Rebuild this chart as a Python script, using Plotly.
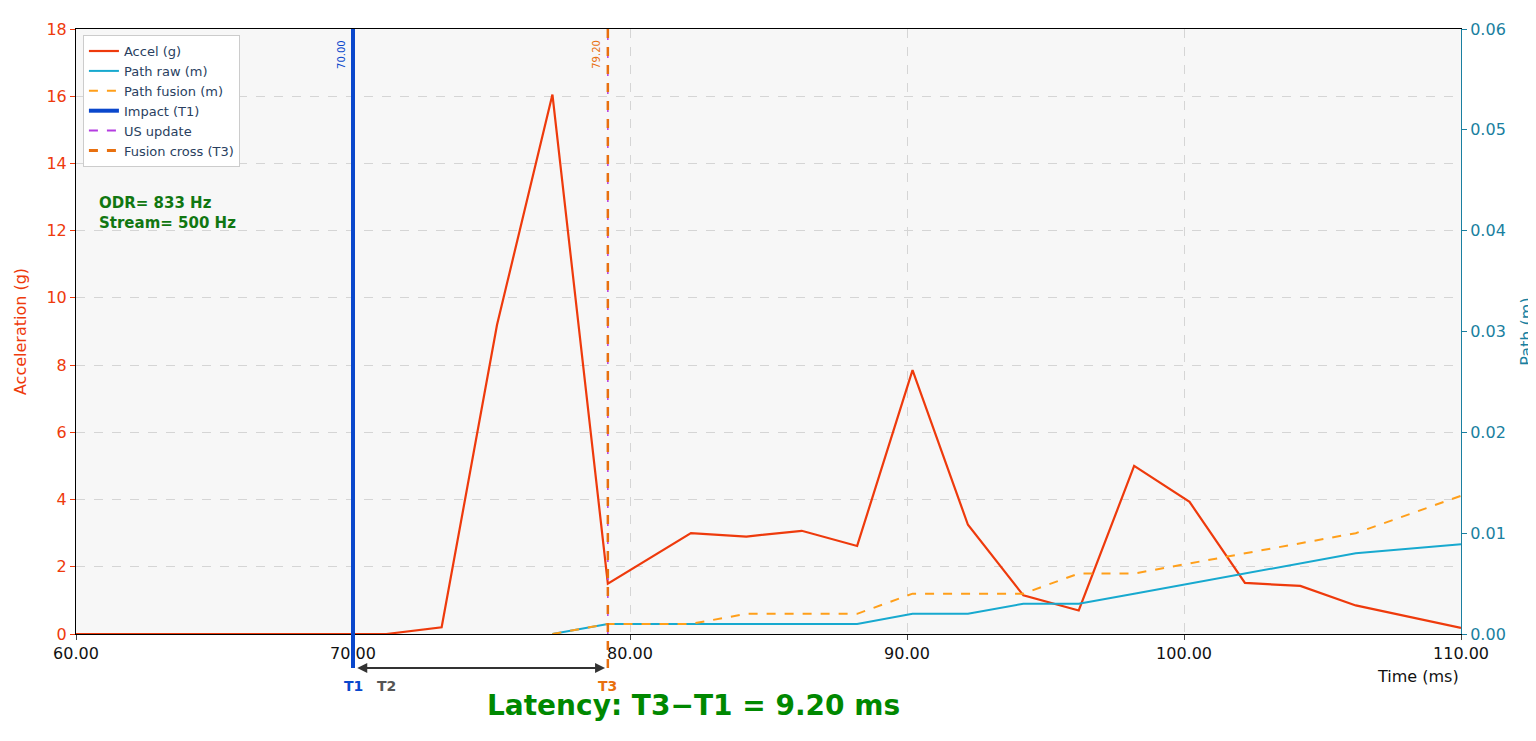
import plotly.graph_objects as go

acc_t = [60, 70, 71.2, 73.2, 75.2, 77.2, 79.2, 82.2, 84.2, 86.2, 88.2, 90.2, 92.2, 94.2, 96.2, 98.2, 100.2, 102.2, 104.2, 106.2, 110]
acc_g = [0, 0, 0, 0.2, 9.2, 16.05, 1.5, 3.0, 2.9, 3.07, 2.62, 7.85, 3.25, 1.15, 0.7, 5.0, 3.93, 1.52, 1.43, 0.85, 0.18]
path_t = [77.2, 79.2, 82.2, 84.2, 86.2, 88.2, 90.2, 92.2, 94.2, 96.2, 98.2, 100.2, 102.2, 104.2, 106.2, 110]
path_raw = [0, 0.001, 0.001, 0.001, 0.001, 0.001, 0.002, 0.002, 0.003, 0.003, 0.004, 0.005, 0.006, 0.007, 0.008, 0.0089]
path_fus = [0, 0.001, 0.001, 0.002, 0.002, 0.002, 0.004, 0.004, 0.004, 0.006, 0.006, 0.007, 0.008, 0.009, 0.010, 0.0137]
T1, T2, T3 = 70.0, 71.2, 79.2
xticks = [60, 70, 80, 90, 100, 110]

fig = go.Figure()
fig.add_trace(go.Scatter(x=acc_t, y=acc_g, name="Accel (g)", mode="lines", line=dict(color="#ee3a0c", width=2.2)))
fig.add_trace(go.Scatter(x=path_t, y=path_raw, name="Path raw (m)", mode="lines", line=dict(color="#17a9cf", width=2), yaxis="y2"))
fig.add_trace(go.Scatter(x=path_t, y=path_fus, name="Path fusion (m)", mode="lines", line=dict(color="#ff9f1a", width=2, dash="dash"), yaxis="y2"))
fig.add_trace(go.Scatter(x=[None], y=[None], name="Impact (T1)", mode="lines", line=dict(color="#0a47cc", width=4)))
fig.add_trace(go.Scatter(x=[None], y=[None], name="US update", mode="lines", line=dict(color="#b43ce0", width=2, dash="dash")))
fig.add_trace(go.Scatter(x=[None], y=[None], name="Fusion cross (T3)", mode="lines", line=dict(color="#e8700f", width=3, dash="dash")))

shapes = [
    dict(type="line", xref="x", yref="paper", x0=T1, x1=T1, y0=-0.056, y1=1, line=dict(color="#0a47cc", width=4)),
    dict(type="line", xref="x", yref="paper", x0=T3, x1=T3, y0=0, y1=1, line=dict(color="#b43ce0", width=1.5, dash="dash")),
    dict(type="line", xref="x", yref="paper", x0=T3, x1=T3, y0=-0.056, y1=1, line=dict(color="#e8700f", width=2.5, dash="dash")),
]
ann = [
    dict(x=T3 - 0.1, y=-0.056, ax=T1 + 0.1, ay=-0.056, xref="x", yref="y domain", axref="x", ayref="y domain",
         text="", showarrow=True, arrowhead=2, arrowside="end+start", arrowcolor="#333", arrowwidth=2),
    dict(x=T1, y=-0.102, xref="x", yref="paper", text="<b>T1</b>", showarrow=False, font=dict(color="#0a47cc", size=14)),
    dict(x=T2, y=-0.102, xref="x", yref="paper", text="<b>T2</b>", showarrow=False, font=dict(color="#555", size=14)),
    dict(x=T3, y=-0.102, xref="x", yref="paper", text="<b>T3</b>", showarrow=False, font=dict(color="#e8700f", size=14)),
    dict(x=0.295, y=-0.148, xref="paper", yref="paper", text="<b>Latency: T3−T1 = 9.20 ms</b>", showarrow=False, font=dict(color="#008800", size=28)),
    dict(x=1, y=-0.09, xref="paper", yref="paper", text="Time (ms)", showarrow=False, xanchor="right", font=dict(size=16, color="#111")),
    dict(x=T1 - 0.15, y=0.985, xref="x", yref="paper", text=f"{T1:.2f}", textangle=-90, showarrow=False, yanchor="top", xanchor="right", font=dict(color="#0a47cc", size=10)),
    dict(x=T3 - 0.15, y=0.985, xref="x", yref="paper", text=f"{T3:.2f}", textangle=-90, showarrow=False, yanchor="top", xanchor="right", font=dict(color="#e8700f", size=10)),
    dict(x=0.015, y=0.73, xref="paper", yref="paper", text="<b>ODR= 833 Hz<br>Stream= 500 Hz</b>", showarrow=False, xanchor="left", align="left", font=dict(color="#117711", size=15)),
]
fig.update_layout(
    width=1536, height=741, margin=dict(l=64, r=79, t=17, b=115),
    paper_bgcolor="white", plot_bgcolor="#f7f7f7", font=dict(family="DejaVu Sans"),
    shapes=shapes, annotations=ann,
    legend=dict(x=0.005, y=0.99, xanchor="left", yanchor="top", bgcolor="white", bordercolor="#ccc", borderwidth=1, font=dict(size=13)),
    xaxis=dict(range=[60, 110], tickvals=xticks, ticktext=[f"{v:.2f}" for v in xticks], showgrid=True, gridcolor="#d5d5d5", griddash="dash",
               zeroline=False, showline=True, linecolor="black", mirror=True, ticks="outside", tickfont=dict(size=16, color="#111")),
    yaxis=dict(range=[0, 18], dtick=2, title=dict(text="Acceleration (g)", font=dict(color="#ee3a0c", size=16)), tickfont=dict(color="#ee3a0c", size=16),
               showgrid=True, gridcolor="#d5d5d5", griddash="dash", zeroline=False, showline=True, linecolor="black", ticks="outside", tickcolor="#ee3a0c"),
    yaxis2=dict(range=[0, 0.06], dtick=0.01, tickformat=".2f", overlaying="y", side="right", showgrid=False, zeroline=False,
                title=dict(text="Path (m)", font=dict(color="#1a7fa0", size=16)), tickfont=dict(color="#1a7fa0", size=16),
                showline=True, linecolor="#1a7fa0", ticks="outside", tickcolor="#1a7fa0"),
)
fig.write_html("out.html")
